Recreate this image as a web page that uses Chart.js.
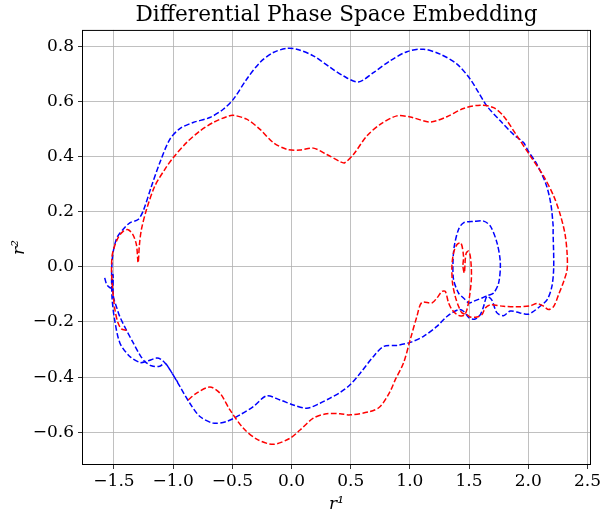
<!DOCTYPE html>
<html lang="en">
<head>
    <meta charset="UTF-8">
    <title>Differential Phase Space Embedding</title>
    <script src="https://cdn.jsdelivr.net/npm/chart.js"></script>
    <style>
        html, body { margin: 0; padding: 0; background: #fff; }
        #wrap { width: 607px; height: 521px; }
    </style>
</head>
<body>
    <div id="wrap"><canvas id="phaseChart" width="607" height="521"></canvas></div>

    <script>
        // trajectory points (r1, r2)
        const redX = [-1.394, -1.437, -1.465, -1.49, -1.508, -1.52, -1.516, -1.495, -1.46, -1.42, -1.38, -1.34, -1.31, -1.296,
            -1.285, -1.268, -1.225, -1.155, -1.07, -1.0, -0.887, -0.774, -0.662, -0.548, -0.492, -0.379, -0.266, -0.154,
            -0.041, 0.072, 0.184, 0.298, 0.41, 0.45, 0.523, 0.636, 0.749, 0.89, 1.003, 1.172, 1.313, 1.453, 1.595, 1.707,
            1.79, 1.905, 2.018, 2.13, 2.215, 2.27, 2.31, 2.328, 2.328, 2.30, 2.257, 2.215, 2.173, 2.13, 2.074, 2.018,
            1.905, 1.79, 1.68, 1.637, 1.609, 1.567, 1.51, 1.482, 1.44, 1.411, 1.383, 1.36, 1.355, 1.369, 1.398, 1.431,
            1.453, 1.448, 1.46, 1.468, 1.477, 1.496, 1.51, 1.519, 1.519, 1.504, 1.482, 1.46, 1.43, 1.397, 1.355, 1.327,
            1.299, 1.271, 1.228, 1.186, 1.101, 1.059, 1.003, 0.946, 0.876, 0.833, 0.749, 0.664, 0.495, 0.41, 0.298,
            0.184, 0.072, -0.013, -0.154, -0.294, -0.408, -0.52, -0.605, -0.69, -0.802, -0.881];
        const redY = [-0.23, -0.225, -0.204, -0.16, -0.095, -0.022, 0.039, 0.075, 0.11, 0.13, 0.135, 0.117, 0.08, 0.015,
            0.08, 0.136, 0.208, 0.293, 0.354, 0.396, 0.451, 0.493, 0.524, 0.545, 0.55, 0.536, 0.499, 0.451,
            0.427, 0.424, 0.431, 0.408, 0.382, 0.378, 0.408, 0.475, 0.517, 0.548, 0.544, 0.526, 0.545, 0.575, 0.587, 0.578,
            0.548, 0.475, 0.402, 0.329, 0.257, 0.19, 0.12, 0.05, -0.01, -0.052, -0.10, -0.143, -0.155, -0.143, -0.133, -0.141,
            -0.145, -0.143, -0.138, -0.149, -0.173, -0.182, -0.182, -0.173, -0.167, -0.143, -0.107, -0.058, 0.002, 0.051, 0.081, 0.087,
            0.039, 0.002, -0.022, 0.027, 0.051, 0.057, 0.039, -0.004, -0.046, -0.107, -0.155, -0.175, -0.178, -0.173, -0.155, -0.131,
            -0.089, -0.089, -0.113, -0.131, -0.129, -0.18, -0.264, -0.349, -0.41, -0.452, -0.507, -0.525, -0.537, -0.533, -0.533,
            -0.549, -0.592, -0.622, -0.644, -0.625, -0.585, -0.519, -0.458, -0.436, -0.458, -0.486];

        const blueX = [-1.578, -1.565, -1.55, -1.525, -1.508, -1.505, -1.475, -1.451, -1.394, -1.338, -1.28, -1.24, -1.183,
            -1.113, -1.07, -1.028, -1.0, -0.943, -0.859, -0.774, -0.662, -0.548, -0.436, -0.323, -0.21, -0.097, 0.015,
            0.129, 0.241, 0.326, 0.41, 0.495, 0.58, 0.692, 0.777, 0.89, 1.003, 1.115, 1.228, 1.313, 1.411, 1.453, 1.50,
            1.552, 1.595, 1.623, 1.65, 1.707, 1.75, 1.764, 1.736, 1.68, 1.623, 1.54, 1.453, 1.411, 1.375, 1.364, 1.369,
            1.411, 1.453, 1.50, 1.538, 1.609, 1.65, 1.69, 1.736, 1.79, 1.85, 1.93, 2.0, 2.046, 2.10, 2.16, 2.20, 2.215,
            2.21, 2.21, 2.19, 2.15, 2.07, 2.0, 1.96, 1.877, 1.764, 1.65, 1.58, 1.51, 1.398, 1.256, 1.115, 0.975, 0.833,
            0.692, 0.565, 0.438, 0.326, 0.184, 0.044, -0.041, -0.154, -0.266, -0.379, -0.492, -0.577, -0.69, -0.831,
            -0.943, -1.028, -1.113, -1.183, -1.254, -1.296, -1.366, -1.423, -1.47, -1.50, -1.516, -1.52, -1.515, -1.495,
            -1.45, -1.366, -1.28, -1.225, -1.14, -1.098, -1.056, -1.0, -0.96];
        const blueY = [-0.04, -0.06, -0.07, -0.076, -0.028, -0.107, -0.15, -0.18, -0.23, -0.275, -0.32, -0.343, -0.359,
            -0.361, -0.349, -0.373, -0.392, -0.434, -0.495, -0.543, -0.567, -0.561, -0.537, -0.507, -0.468, -0.483, -0.501,
            -0.513, -0.495, -0.476, -0.456, -0.428, -0.386, -0.325, -0.289, -0.285, -0.274, -0.252, -0.216, -0.18, -0.155, -0.161, -0.185,
            -0.189, -0.173, -0.143, -0.107, -0.095, -0.058, 0.015, 0.087, 0.148, 0.166, 0.165, 0.16, 0.136, 0.075, 0.015, -0.046,
            -0.095, -0.113, -0.131, -0.125, -0.113, -0.107, -0.119, -0.167, -0.177, -0.16, -0.167, -0.172, -0.161, -0.143, -0.119, -0.07, 0.0,
            0.124, 0.15, 0.23, 0.30, 0.375, 0.42, 0.451, 0.48, 0.53, 0.584, 0.633, 0.681, 0.736, 0.772, 0.790, 0.781, 0.748,
            0.705, 0.671, 0.693, 0.724, 0.766, 0.79, 0.793, 0.778, 0.742, 0.681, 0.608, 0.572, 0.542, 0.524,
            0.502, 0.463, 0.378, 0.293, 0.202, 0.172, 0.16, 0.136, 0.11, 0.069, 0.02, -0.05, -0.12, -0.19,
            -0.276, -0.325, -0.347, -0.343, -0.331, -0.337, -0.355, -0.392, -0.42];

        const xTicks = [-1.5, -1.0, -0.5, 0.0, 0.5, 1.0, 1.5, 2.0, 2.5];
        const yTicks = [-0.6, -0.4, -0.2, 0.0, 0.2, 0.4, 0.6, 0.8];

        const toPoints = (xs, ys) => xs.map((x, i) => ({ x: x, y: ys[i] }));
        const fmt = v => (v < 0 ? '\u2212' : '') + Math.abs(v).toFixed(1);

        const frame = {
            id: 'frame',
            afterDraw(chart) {
                const a = chart.chartArea, c = chart.ctx;
                c.save();
                c.strokeStyle = '#000';
                c.lineWidth = 1;
                c.strokeRect(a.left + 0.5, a.top + 0.5, a.right - a.left - 1, a.bottom - a.top - 1);
                c.restore();
            }
        };

        const serif = 'DejaVu Serif';
        const ctx = document.getElementById('phaseChart').getContext('2d');
        new Chart(ctx, {
            type: 'scatter',
            data: {
                datasets: [{
                    data: toPoints(redX, redY),
                    showLine: true,
                    borderColor: 'red',
                    borderWidth: 1.5,
                    borderDash: [5.5, 2.4],
                    pointRadius: 0,
                    tension: 0.3,
                    fill: false
                }, {
                    data: toPoints(blueX, blueY),
                    showLine: true,
                    borderColor: 'blue',
                    borderWidth: 1.5,
                    borderDash: [5.5, 2.4],
                    pointRadius: 0,
                    tension: 0.3,
                    fill: false
                }]
            },
            options: {
                responsive: false,
                animation: false,
                devicePixelRatio: 1,
                layout: { padding: { left: 0, right: 16, top: 0, bottom: 0 } },
                plugins: {
                    legend: { display: false },
                    tooltip: { enabled: false },
                    title: {
                        display: true,
                        text: 'Differential Phase Space Embedding',
                        fullSize: false,
                        color: '#000',
                        font: { family: serif, size: 21.6, weight: 'normal' },
                        padding: { top: 2, bottom: 2 }
                    }
                },
                scales: {
                    x: {
                        type: 'linear',
                        min: -1.77,
                        max: 2.53,
                        afterBuildTicks: s => { s.ticks = xTicks.map(v => ({ value: v })); },
                        afterFit: s => { s.height = 56; },
                        grid: { color: '#b0b0b0', lineWidth: 0.8, tickColor: '#000', tickLength: 4 },
                        border: { display: false },
                        ticks: { color: '#000', padding: 2, font: { family: serif, size: 17 }, callback: fmt, maxRotation: 0 },
                        title: { display: true, text: 'r\u00b9', color: '#000', font: { family: serif, size: 17, style: 'italic' }, padding: { top: 0, bottom: 6 } }
                    },
                    y: {
                        type: 'linear',
                        min: -0.719,
                        max: 0.86,
                        afterBuildTicks: s => { s.ticks = yTicks.map(v => ({ value: v })); },
                        afterFit: s => { s.width = 82; },
                        grid: { color: '#b0b0b0', lineWidth: 0.8, tickColor: '#000', tickLength: 4 },
                        border: { display: false },
                        ticks: { color: '#000', padding: 4, font: { family: serif, size: 17 }, callback: fmt },
                        title: { display: true, text: 'r\u00b2', color: '#000', font: { family: serif, size: 17, style: 'italic' }, padding: { top: 9, bottom: 0 } }
                    }
                }
            },
            plugins: [frame]
        });
    </script>
</body>
</html>
